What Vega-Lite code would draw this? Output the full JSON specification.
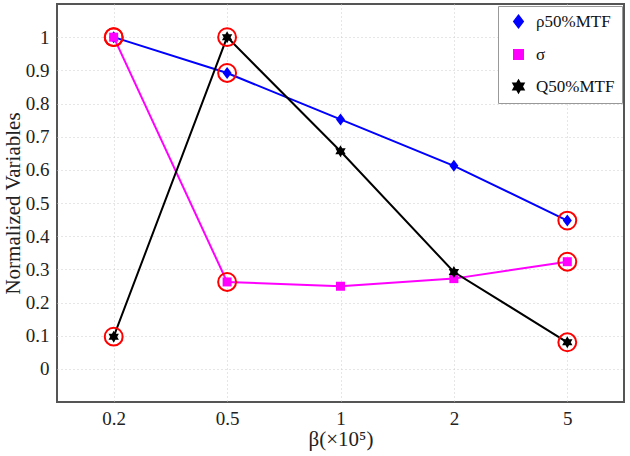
{
  "$schema": "https://vega.github.io/schema/vega-lite/v6.json",
  "autosize": {"type": "none"},
  "width": 567,
  "height": 398,
  "padding": {"left": 57, "top": 4, "right": 6, "bottom": 54},
  "background": "white",
  "config": {
    "view": {"stroke": "#555555", "strokeWidth": 2},
    "font": "Liberation Serif",
    "axis": {
      "labelFont": "Liberation Serif",
      "titleFont": "Liberation Serif",
      "labelFontSize": 19,
      "titleFontSize": 21,
      "titleFontWeight": "normal",
      "labelColor": "#222222",
      "titleColor": "#222222",
      "domain": false,
      "ticks": false,
      "gridColor": "#cccccc",
      "gridDash": [1, 3],
      "gridWidth": 1
    }
  },
  "data": {
    "values": [
      {"beta": "0.2", "series": "ρ50%MTF", "value": 1.0, "ring": true},
      {"beta": "0.5", "series": "ρ50%MTF", "value": 0.892, "ring": true},
      {"beta": "1", "series": "ρ50%MTF", "value": 0.752, "ring": false},
      {"beta": "2", "series": "ρ50%MTF", "value": 0.612, "ring": false},
      {"beta": "5", "series": "ρ50%MTF", "value": 0.447, "ring": true},
      {"beta": "0.2", "series": "σ", "value": 1.0, "ring": true},
      {"beta": "0.5", "series": "σ", "value": 0.262, "ring": true},
      {"beta": "1", "series": "σ", "value": 0.249, "ring": false},
      {"beta": "2", "series": "σ", "value": 0.272, "ring": false},
      {"beta": "5", "series": "σ", "value": 0.323, "ring": true},
      {"beta": "0.2", "series": "Q50%MTF", "value": 0.097, "ring": true},
      {"beta": "0.5", "series": "Q50%MTF", "value": 1.0, "ring": true},
      {"beta": "1", "series": "Q50%MTF", "value": 0.656, "ring": false},
      {"beta": "2", "series": "Q50%MTF", "value": 0.292, "ring": false},
      {"beta": "5", "series": "Q50%MTF", "value": 0.080, "ring": true}
    ]
  },
  "encoding": {
    "x": {
      "field": "beta",
      "type": "ordinal",
      "sort": ["0.2", "0.5", "1", "2", "5"],
      "scale": {"type": "point", "padding": 0.5},
      "axis": {"title": "β(×10⁵)", "labelAngle": 0, "grid": true, "labelPadding": 7, "titlePadding": 0}
    },
    "y": {
      "field": "value",
      "type": "quantitative",
      "scale": {"domain": [-0.1, 1.1], "nice": false, "zero": false},
      "axis": {"title": "Normalized Variables", "values": [0, 0.1, 0.2, 0.3, 0.4, 0.5, 0.6, 0.7, 0.8, 0.9, 1], "format": ".1~f", "grid": true, "labelPadding": 8, "titlePadding": 2}
    },
    "color": {
      "field": "series",
      "type": "nominal",
      "scale": {"domain": ["ρ50%MTF", "σ", "Q50%MTF"], "range": ["#0000ff", "#ff00ff", "#000000"]},
      "legend": {
        "title": null,
        "orient": "top-right",
        "offset": 2,
        "fillColor": "white",
        "strokeColor": "#999999",
        "padding": 7,
        "symbolSize": 160,
        "symbolOffset": 5,
        "labelFont": "Liberation Serif",
        "labelFontSize": 17,
        "labelColor": "#111111",
        "rowPadding": 14,
        "labelOffset": 9
      }
    }
  },
  "layer": [
    {
      "mark": {"type": "line", "strokeWidth": 2}
    },
    {
      "mark": {"type": "point", "filled": true, "opacity": 1, "size": 144},
      "encoding": {
        "shape": {
          "field": "series",
          "type": "nominal",
          "scale": {
            "domain": ["ρ50%MTF", "σ", "Q50%MTF"],
            "range": [
              "M0,-1L0.75,0L0,1L-0.75,0Z",
              "M-0.75,-0.75L0.75,-0.75L0.75,0.75L-0.75,0.75Z",
              "M0,-1L0.289,-0.5L0.866,-0.5L0.577,0L0.866,0.5L0.289,0.5L0,1L-0.289,0.5L-0.866,0.5L-0.577,0L-0.866,-0.5L-0.289,-0.5Z"
            ]
          },
          "legend": null
        }
      }
    },
    {
      "transform": [{"filter": "datum.ring"}],
      "mark": {"type": "point", "shape": "circle", "filled": false, "strokeWidth": 2, "size": 320, "opacity": 1},
      "encoding": {"color": {"value": "#ff0000"}}
    }
  ]
}
